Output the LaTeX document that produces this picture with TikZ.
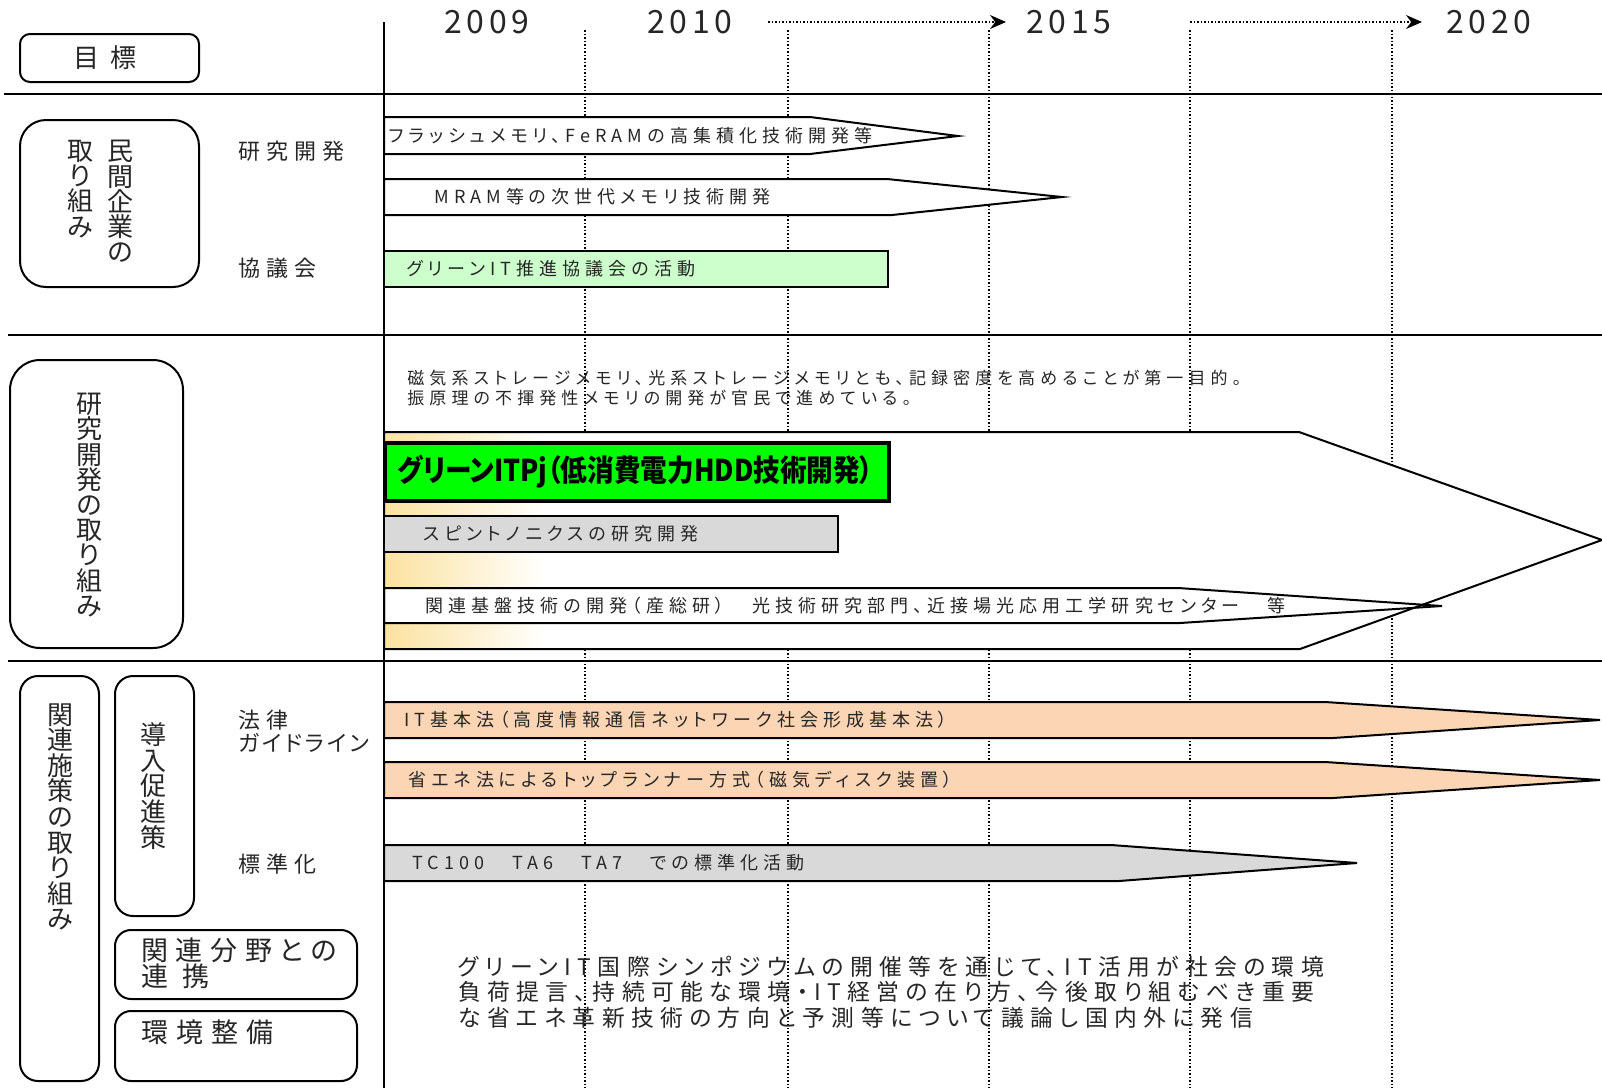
\documentclass[tikz,border=0pt]{standalone}
\usepackage{fontspec}
\usepackage{graphicx}
\usetikzlibrary{arrows.meta}
\newfontfamily\jp[RawFeature=+palt,LetterSpace=28]{Noto Sans CJK JP}
\newfontfamily\jpw[RawFeature=+palt,LetterSpace=30]{Noto Sans CJK JP}
\newfontfamily\jpk[RawFeature=+palt,LetterSpace=14]{Noto Sans CJK JP}
\newfontfamily\jpy[LetterSpace=15]{Noto Sans CJK JP}
\newfontfamily\jpn{Noto Sans CJK JP}
\newfontfamily\jpb[RawFeature=+palt]{Noto Sans CJK JP}
\definecolor{lgreen}{HTML}{CCFFCC}
\definecolor{bgreen}{HTML}{00FF00}
\definecolor{lgray}{HTML}{D9D9D9}
\definecolor{peach}{HTML}{FCD5B4}
\definecolor{goldy}{HTML}{FBE2A0}
\definecolor{txt}{HTML}{262626}
\tikzset{
  yeargrid/.style={line width=0.75pt, dash pattern=on 0.75pt off 1pt, black},
  dotarrow/.style={line width=0.75pt, dash pattern=on 0.75pt off 1pt, black, -{Stealth[length=8pt,width=7pt]}},
  mainline/.style={line width=1.1pt, black},
  rbox/.style={draw, line width=1pt, rounded corners=#1},
  outl/.style={draw, line width=1pt, line join=miter},
  yearlbl/.style={inner sep=0pt, text=txt, font=\jpy\fontsize{16pt}{16pt}\selectfont},
  lbl/.style={inner sep=0pt, anchor=west, text=txt, font=\jp\fontsize{11pt}{12pt}\selectfont},
  rowtxt/.style={inner sep=0pt, anchor=west, text=txt, font=\jp\fontsize{9pt}{10pt}\selectfont},
  vtext/.style={inner sep=0pt, align=center, text=txt, font=\jpn\fontsize{13pt}{12.6pt}\selectfont},
  bigtxt/.style={inner sep=0pt, anchor=west, align=left, text=txt, font=\jp\fontsize{13.5pt}{13pt}\selectfont},
  paratxt/.style={inner sep=0pt, anchor=west, align=left, text=txt, font=\jp\fontsize{11.4pt}{12.75pt}\selectfont},
}
\begin{document}
\begin{tikzpicture}[x=0.5pt,y=-0.5pt]
\useasboundingbox (0,0) rectangle (1602,1088);
\fill[white] (0,0) rectangle (1602,1088);

% dotted year grid
\foreach \xx in {585,788,989,1190,1392} \draw[yeargrid] (\xx,30) -- (\xx,1088);

% year labels and arrows
\node[yearlbl] (y2009) at (487,22) {2009};
\node[yearlbl] (y2010) at (690,22) {2010};
\node[yearlbl] (y2015) at (1069,22) {2015};
\node[yearlbl] (y2020) at (1489,22) {2020};
\coordinate (a1s) at (768,22); \coordinate (a1e) at (1006,22);
\coordinate (a2s) at (1190,22); \coordinate (a2e) at (1422,22);
\draw[dotarrow] (a1s) -- (a1e);
\draw[dotarrow] (a2s) -- (a2e);

% section 1 shapes
\draw[outl, fill=white] (384,117) -- (810,117) -- (958,136) -- (810,154) -- (384,154) -- cycle;
\draw[outl, fill=white] (384,179) -- (887,179) -- (1062,197) -- (892,215) -- (384,215) -- cycle;
\draw[outl, fill=lgreen] (384,251) rectangle (888,287);
\node[rowtxt] (r1) at (388,136) {フラッシュメモリ、FeRAMの高集積化技術開発等};
\node[rowtxt] (r2) at (434,197) {MRAM等の次世代メモリ技術開発};
\node[rowtxt] (r3) at (406,269) {グリーンIT推進協議会の活動};

% section 2
\node[inner sep=0pt, anchor=west, text=txt, align=left, font=\jpw\fontsize{8.5pt}{9.75pt}\selectfont] (note) at (407,388)
  {磁気系ストレージメモリ、光系ストレージメモリとも、記録密度を高めることが第一目的。\\振原理の不揮発性メモリの開発が官民で進めている。};
\fill[white] (384,432) -- (1299,432) -- (1602,540) -- (1300,649) -- (384,649) -- cycle;
\shade[left color=goldy, right color=white] (384,432) rectangle (545,649);
\fill[white] (384,588) -- (1178,588) -- (1442,606) -- (1180,623) -- (384,623) -- cycle;
\draw[outl] (384,432) -- (1299,432) -- (1602,540) -- (1300,649) -- (384,649) -- cycle;
\draw[outl] (384,588) -- (1178,588) -- (1442,606) -- (1180,623) -- (384,623) -- cycle;
\draw[line width=2.2pt, fill=bgreen] (385,443) rectangle (889,501);
\draw[outl, fill=lgray] (384,516) rectangle (838,552);
\node[inner sep=0pt, anchor=west, font=\jpb\bfseries\fontsize{15pt}{15pt}\selectfont] (gitpj) at (397,472)
  {\resizebox{238pt}{\height}{グリーンITPj（低消費電力HDD技術開発）}};
\node[rowtxt] (spin) at (423,534) {スピントノニクスの研究開発};
\node[rowtxt] (kiban) at (425,606) {関連基盤技術の開発（産総研）　光技術研究部門、近接場光応用工学研究センター　等};

% section 3 shapes
\draw[outl, fill=peach] (384,702) -- (1325,702) -- (1600,720) -- (1333,738) -- (384,738) -- cycle;
\draw[outl, fill=peach] (384,762) -- (1325,762) -- (1600,780) -- (1333,798) -- (384,798) -- cycle;
\draw[outl, fill=lgray] (384,845) -- (1111,845) -- (1357,863) -- (1119,881) -- (384,881) -- cycle;
\node[rowtxt] (o1) at (404,720) {IT基本法（高度情報通信ネットワーク社会形成基本法）};
\node[rowtxt] (o2) at (408,780) {省エネ法によるトップランナー方式（磁気ディスク装置）};
\node[rowtxt] (tc) at (412,863) {TC100　TA6　TA7　での標準化活動};
\node[paratxt] (sympo) at (458,992) {グリーンIT国際シンポジウムの開催等を通じて、IT活用が社会の環境\\負荷提言、持続可能な環境・IT経営の在り方、今後取り組むべき重要\\な省エネ革新技術の方向と予測等について議論し国内外に発信};

% main lines
\draw[mainline] (384,22) -- (384,1088);
\draw[mainline] (4,94) -- (1602,94);
\draw[mainline] (8,335) -- (1602,335);
\draw[mainline] (8,661) -- (1602,661);

% left column boxes
\draw[rbox=5pt] (20,34) rectangle (199,82);
\node[inner sep=0pt, text=txt, font=\jpn\fontsize{13pt}{13pt}\selectfont] (goal) at (105,58) {目\hspace{6pt}標};
\draw[rbox=13pt] (20,120) rectangle (199,287);
\node[vtext] (minkan) at (120,201.5) {民\\間\\企\\業\\の};
\node[vtext] (torikumi1) at (80,189) {取\\り\\組\\み};
\node[lbl] (kenkyu) at (238,151) {研究開発};
\node[lbl] (kyogi) at (238,268) {協議会};

\draw[rbox=15pt] (10,360) rectangle (183,648);
\node[vtext] (kenkyutori) at (89,505) {研\\究\\開\\発\\の\\取\\り\\組\\み};

\draw[rbox=9pt] (20,676) rectangle (99,1081);
\node[vtext, font=\jpn\fontsize{13pt}{12.8pt}\selectfont] (kanren) at (60,817) {関\\連\\施\\策\\の\\取\\り\\組\\み};
\draw[rbox=9pt] (115,676) rectangle (194,916);
\node[vtext, font=\jpn\fontsize{13pt}{12.9pt}\selectfont] (donyu) at (153,786) {導\\入\\促\\進\\策};
\node[lbl] (horitsu) at (238,720) {法律};
\node[lbl, font=\jpk\fontsize{11pt}{12pt}\selectfont] (guide) at (238,743) {ガイドライン};
\node[lbl] (hyojun) at (238,864) {標準化};
\draw[rbox=8pt] (115,930) rectangle (357,999);
\node[bigtxt] (renkei) at (141,963) {関連分野との\\連 携};
\draw[rbox=8pt] (115,1011) rectangle (357,1081);
\node[bigtxt, font=\jpw\fontsize{13.5pt}{13pt}\selectfont] (kankyo) at (141,1032) {環境整備};
\end{tikzpicture}
\end{document}
